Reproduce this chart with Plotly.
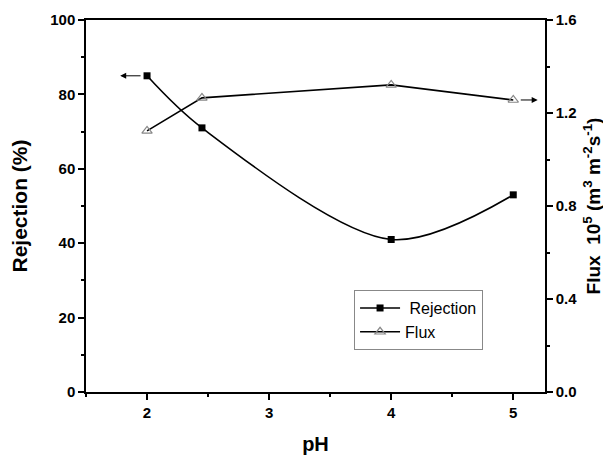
import plotly.graph_objects as go

ph = [2.0, 2.45, 4.0, 5.0]
rejection = [85, 71, 41, 53]
flux = [1.123, 1.265, 1.321, 1.256]

y_ticks = [0, 20, 40, 60, 80, 100]
y2_ticks = [0.0, 0.4, 0.8, 1.2, 1.6]
x_ticks = [2, 3, 4, 5]

FONT = "Liberation Sans, Arial, sans-serif"

fig = go.Figure()
fig.add_trace(go.Scatter(
    x=ph, y=rejection, name=" Rejection", mode="lines+markers",
    line=dict(color="black", width=1.6, shape="spline", smoothing=0.9),
    marker=dict(symbol="square", size=7, color="black"),
))
fig.add_trace(go.Scatter(
    x=ph, y=flux, name="Flux", mode="lines+markers", yaxis="y2",
    line=dict(color="black", width=1.6),
    marker=dict(symbol="triangle-up-open", size=9, color="#888888", line=dict(width=1.2)),
))

# arrows indicating which axis each series belongs to
fig.add_annotation(x=ph[0] - 0.22, y=rejection[0], ax=ph[0], ay=rejection[0],
                   xref="x", yref="y", axref="x", ayref="y", text="", showarrow=True,
                   arrowhead=2, arrowsize=1.2, arrowwidth=1, arrowcolor="black", standoff=0, startstandoff=5)
fig.add_annotation(x=ph[-1] + 0.2, y=flux[-1], ax=ph[-1], ay=flux[-1],
                   xref="x", yref="y2", axref="x", ayref="y2", text="", showarrow=True,
                   arrowhead=2, arrowsize=1.2, arrowwidth=1, arrowcolor="black", standoff=0, startstandoff=6)

axis_common = dict(showline=True, linecolor="black", linewidth=1.5, ticks="outside",
                   ticklen=6, tickwidth=1.5, tickcolor="black", showgrid=False, zeroline=False,
                   automargin=False,
                   tickfont=dict(family=FONT, size=15, color="black", weight="bold"))

fig.update_layout(
    width=603, height=450,
    margin=dict(l=78, r=66, t=12, b=66),
    paper_bgcolor="white", plot_bgcolor="white",
    showlegend=True,
    legend=dict(x=0.584, y=0.274, xanchor="left", yanchor="top",
                bgcolor="white", bordercolor="#888888", borderwidth=1,
                font=dict(family=FONT, size=16, color="black"),
                itemwidth=40, tracegroupgap=0),
    xaxis=dict(range=[1.5, 5.26], tickvals=x_ticks, mirror=True,
               minor=dict(dtick=0.5, ticks="outside", ticklen=3, tickwidth=1.5, tickcolor="black"),
               title=dict(text="pH", font=dict(family=FONT, size=20, color="black", weight="bold"), standoff=17),
               **axis_common),
    yaxis=dict(range=[0, 100], tickvals=y_ticks,
               minor=dict(dtick=10, ticks="outside", ticklen=3, tickwidth=1.5, tickcolor="black"),
               title=dict(text="Rejection (%)", font=dict(family=FONT, size=21, color="black", weight="bold"), standoff=18),
               **axis_common),
    yaxis2=dict(range=[0, 1.6], tickvals=y2_ticks, tickformat=".1f", overlaying="y", side="right",
                minor=dict(dtick=0.2, ticks="outside", ticklen=3, tickwidth=1.5, tickcolor="black"),
                title=dict(text="Flux  10<sup>5</sup> (m<sup>3</sup> m<sup>-2</sup>s<sup>-1</sup>)",
                           font=dict(family=FONT, size=19, color="black", weight="bold"), standoff=10),
                **axis_common),
)

fig.write_html("out.html")
